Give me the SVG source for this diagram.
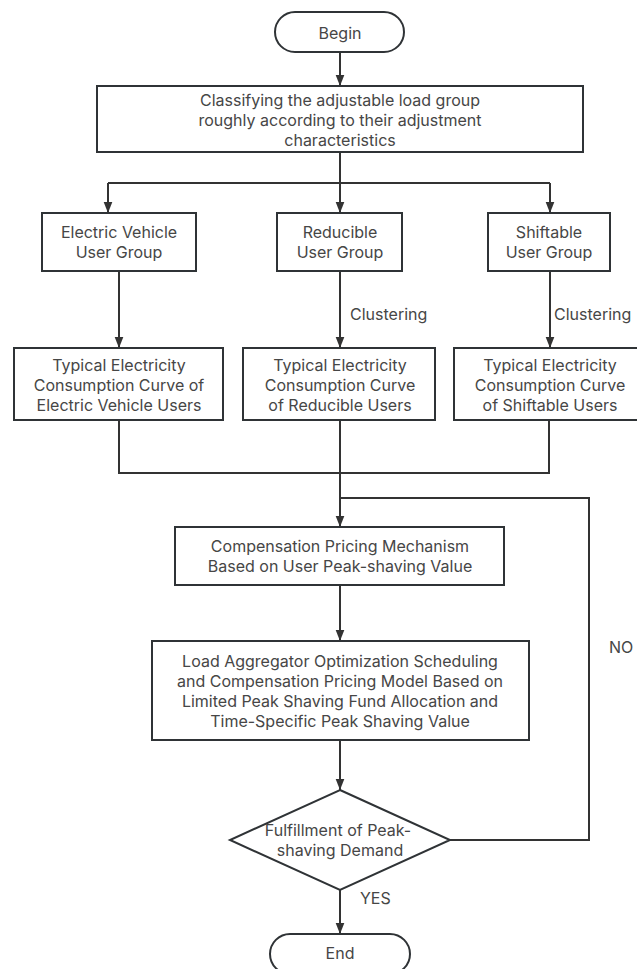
<svg xmlns="http://www.w3.org/2000/svg" width="637" height="969" viewBox="0 0 637 969">
<style>
.box{fill:#ffffff;stroke:#2f3336;stroke-width:2}
.ln{fill:none;stroke:#333333;stroke-width:2}
text{font-family:Inter,"Open Sans","Liberation Sans",sans-serif;font-size:16px;fill:#464646;text-anchor:middle;dominant-baseline:central}
.lbl{text-anchor:start}
</style>
<defs>
<marker id="arr" markerWidth="11" markerHeight="14" refX="14" refY="5.5" orient="auto" markerUnits="userSpaceOnUse" viewBox="0 0 14 11">
<path d="M0,0 L14,5.5 L0,11 Z" fill="#333333"/>
</marker>
</defs>
<rect width="637" height="969" fill="#ffffff"/>
<g id="connectors">
<path class="ln" d="M340,52 V86" marker-end="url(#arr)"/>
<path class="ln" d="M340,152 V183"/>
<path class="ln" d="M108,183 H550"/>
<path class="ln" d="M108,183 V213" marker-end="url(#arr)"/>
<path class="ln" d="M340,183 V213" marker-end="url(#arr)"/>
<path class="ln" d="M550,183 V213" marker-end="url(#arr)"/>
<path class="ln" d="M119,271 V348" marker-end="url(#arr)"/>
<path class="ln" d="M340,271 V348" marker-end="url(#arr)"/>
<path class="ln" d="M550,271 V348" marker-end="url(#arr)"/>
<path class="ln" d="M119,420 V473 H549 V420"/>
<path class="ln" d="M340,420 V527" marker-end="url(#arr)"/>
<path class="ln" d="M340,585 V641" marker-end="url(#arr)"/>
<path class="ln" d="M340,740 V790" marker-end="url(#arr)"/>
<path class="ln" d="M340,890 V934" marker-end="url(#arr)"/>
<path class="ln" d="M450,840 H589 V498 H340"/>
<text class="lbl" x="350" y="314">Clustering</text>
<text class="lbl" x="554" y="314">Clustering</text>
<text class="lbl" x="609" y="647">NO</text>
<text class="lbl" x="360" y="898">YES</text>
</g>
<g id="begin">
<rect class="box" x="275" y="12" width="129" height="40" rx="20"/>
<text x="340" y="33">Begin</text>
</g>
<g id="classify">
<rect class="box" x="97" y="86" width="486" height="66"/>
<text x="340" y="100">Classifying the adjustable load group</text>
<text x="340" y="120">roughly according to their adjustment</text>
<text x="340" y="140">characteristics</text>
</g>
<g id="ev-group">
<rect class="box" x="42" y="213" width="154" height="58"/>
<text x="119" y="232">Electric Vehicle</text>
<text x="119" y="252">User Group</text>
</g>
<g id="reducible-group">
<rect class="box" x="277" y="213" width="125" height="58"/>
<text x="340" y="232">Reducible</text>
<text x="340" y="252">User Group</text>
</g>
<g id="shiftable-group">
<rect class="box" x="488" y="213" width="122" height="58"/>
<text x="549" y="232">Shiftable</text>
<text x="549" y="252">User Group</text>
</g>
<g id="ev-curve">
<rect class="box" x="14" y="348" width="209" height="72"/>
<text x="119" y="365">Typical Electricity</text>
<text x="119" y="385">Consumption Curve of</text>
<text x="119" y="405">Electric Vehicle Users</text>
</g>
<g id="reducible-curve">
<rect class="box" x="243" y="348" width="192" height="72"/>
<text x="340" y="365">Typical Electricity</text>
<text x="340" y="385">Consumption Curve</text>
<text x="340" y="405">of Reducible Users</text>
</g>
<g id="shiftable-curve">
<rect class="box" x="454" y="348" width="192" height="72"/>
<text x="550" y="365">Typical Electricity</text>
<text x="550" y="385">Consumption Curve</text>
<text x="550" y="405">of Shiftable Users</text>
</g>
<g id="compensation">
<rect class="box" x="175" y="527" width="329" height="58"/>
<text x="340" y="546">Compensation Pricing Mechanism</text>
<text x="340" y="566">Based on User Peak-shaving Value</text>
</g>
<g id="load-aggregator">
<rect class="box" x="152" y="641" width="377" height="99"/>
<text x="340" y="661">Load Aggregator Optimization Scheduling</text>
<text x="340" y="681">and Compensation Pricing Model Based on</text>
<text x="340" y="701">Limited Peak Shaving Fund Allocation and</text>
<text x="340" y="721">Time-Specific Peak Shaving Value</text>
</g>
<g id="decision">
<polygon class="box" points="340,790 450,840 340,890 230,840"/>
<text x="338" y="830">Fulfillment of Peak-</text>
<text x="340" y="850">shaving Demand</text>
</g>
<g id="end">
<rect class="box" x="270" y="934" width="140" height="40" rx="20"/>
<text x="340" y="953">End</text>
</g>
</svg>
